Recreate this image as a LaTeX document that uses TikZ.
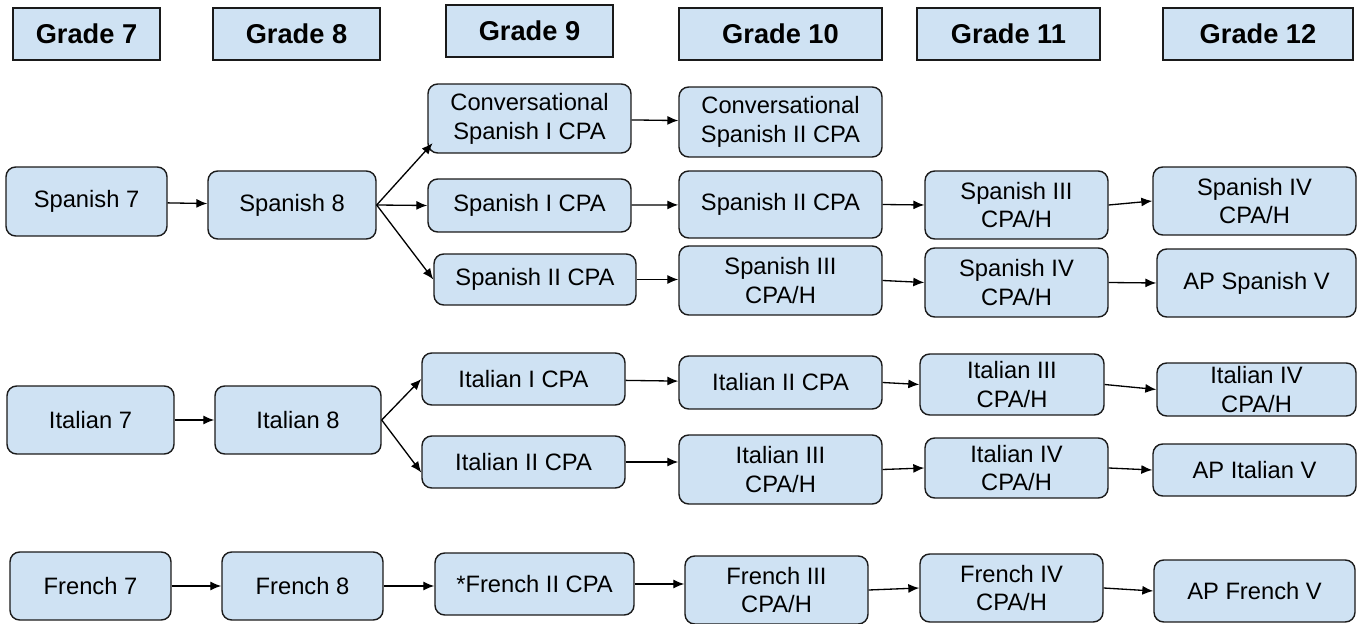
\documentclass[tikz,border=0pt]{standalone}
\usepackage{fontspec}
\setmainfont{Liberation Sans}
\usetikzlibrary{arrows.meta}
\definecolor{lpFill}{HTML}{CFE2F3}
\definecolor{lpLine}{HTML}{1A1A1A}
\tikzset{
  lpgrade/.style={rectangle,draw=lpLine,line width=0.8pt,fill=lpFill,font=\fontsize{15.5}{18}\selectfont\bfseries,align=center,inner sep=0pt,minimum height=1.04cm},
  lpcourse/.style={rectangle,rounded corners=5.5pt,draw=lpLine,line width=0.8pt,fill=lpFill,font=\fontsize{13.5}{16.4}\selectfont,align=center,inner sep=0pt},
  lplink/.style={-{Latex[length=2.2mm,width=1.8mm]},draw=black,line width=0.75pt}
}

\begin{document}
\begin{tikzpicture}[x=0.02cm,y=-0.02cm]
\useasboundingbox (0,0) rectangle (1358,624);

% ---- GRADE HEADERS ----
\node[lpgrade, minimum width=2.94cm] (g7) at (86.5,34) {Grade 7};
\node[lpgrade, minimum width=3.34cm] (g8) at (296.5,34) {Grade 8};
\node[lpgrade, minimum width=3.34cm] (g9) at (529.5,31) {Grade 9};
\node[lpgrade, minimum width=4.06cm] (g10) at (780.5,34) {Grade 10};
\node[lpgrade, minimum width=3.66cm] (g11) at (1008.5,34) {Grade 11};
\node[lpgrade, minimum width=3.80cm] (g12) at (1258,34) {Grade 12};

% ---- SPANISH ----
\node[lpcourse, minimum width=3.22cm, minimum height=1.38cm] (sp7) at (86.5,201.5) {Spanish 7};
\node[lpcourse, minimum width=3.36cm, minimum height=1.36cm] (sp8) at (292,205) {Spanish 8};
\node[lpcourse, minimum width=4.06cm, minimum height=1.38cm] (sp9a) at (529.5,118.5) {Conversational\\ Spanish I CPA};
\node[lpcourse, minimum width=4.06cm, minimum height=1.06cm] (sp9b) at (529.5,205.5) {Spanish I CPA};
\node[lpcourse, minimum width=4.04cm, minimum height=1.02cm] (sp9c) at (535,279.5) {Spanish II CPA};
\node[lpcourse, minimum width=4.06cm, minimum height=1.40cm] (sp10a) at (780.5,122) {Conversational\\ Spanish II CPA};
\node[lpcourse, minimum width=4.06cm, minimum height=1.34cm] (sp10b) at (780.5,204.5) {Spanish II CPA};
\node[lpcourse, minimum width=4.06cm, minimum height=1.38cm] (sp10c) at (780.5,280.5) {Spanish III\\ CPA/H};
\node[lpcourse, minimum width=3.66cm, minimum height=1.36cm] (sp11a) at (1016.5,205) {Spanish III\\ CPA/H};
\node[lpcourse, minimum width=3.66cm, minimum height=1.38cm] (sp11b) at (1016.5,282.5) {Spanish IV\\ CPA/H};
\node[lpcourse, minimum width=4.06cm, minimum height=1.36cm] (sp12a) at (1254.5,201) {Spanish IV\\ CPA/H};
\node[lpcourse, minimum width=3.98cm, minimum height=1.36cm] (sp12b) at (1256.5,283) {AP Spanish V};

\draw[lplink] (sp7) -- (sp8);
\draw[lplink] (sp8.east) -- ([xshift=3pt,yshift=6pt]sp9a.south west);
\draw[lplink] (sp8.east) -- (sp9b.west);
\draw[lplink] (sp8.east) -- (sp9c.west);
\draw[lplink] (sp9a) -- (sp10a);
\draw[lplink] (sp9b) -- (sp10b);
\draw[lplink] (sp9c.east) -- (sp9c.east -| sp10c.west);
\draw[lplink] (sp10b.east) -- (sp11a.west);
\draw[lplink] (sp10c.east) -- (sp11b.west);
\draw[lplink] (sp11a.east) -- (sp12a.west);
\draw[lplink] (sp11b.east) -- (sp12b.west);

% ---- ITALIAN ----
\node[lpcourse, minimum width=3.34cm, minimum height=1.36cm] (it7) at (90.5,420) {Italian 7};
\node[lpcourse, minimum width=3.32cm, minimum height=1.36cm] (it8) at (298,420) {Italian 8};
\node[lpcourse, minimum width=4.06cm, minimum height=1.04cm] (it9a) at (523.5,379) {Italian I CPA};
\node[lpcourse, minimum width=4.06cm, minimum height=1.04cm] (it9b) at (523.5,462) {Italian II CPA};
\node[lpcourse, minimum width=4.06cm, minimum height=1.06cm] (it10a) at (780.5,382.5) {Italian II CPA};
\node[lpcourse, minimum width=4.06cm, minimum height=1.38cm] (it10b) at (780.5,469.5) {Italian III\\ CPA/H};
\node[lpcourse, minimum width=3.68cm, minimum height=1.22cm] (it11a) at (1012,384.5) {Italian III\\ CPA/H};
\node[lpcourse, minimum width=3.66cm, minimum height=1.20cm] (it11b) at (1016.5,468) {Italian IV\\ CPA/H};
\node[lpcourse, minimum width=3.98cm, minimum height=1.06cm] (it12a) at (1256.5,389.5) {Italian IV\\ CPA/H};
\node[lpcourse, minimum width=4.06cm, minimum height=1.04cm] (it12b) at (1254.5,470) {AP Italian V};

\draw[lplink] (it7) -- (it8);
\draw[lplink] (it8.east) -- (it9a.west);
\draw[lplink] (it8.east) -- ([yshift=-6pt]it9b.west);
\draw[lplink] (it9a) -- (it10a);
\draw[lplink] (it9b.east) -- (it9b.east -| it10b.west);
\draw[lplink] (it10a.east) -- (it11a.west);
\draw[lplink] (it10b.east) -- (it11b.west);
\draw[lplink] (it11a.east) -- (it12a.west);
\draw[lplink] (it11b.east) -- (it12b.west);

% ---- FRENCH ----
\node[lpcourse, minimum width=3.22cm, minimum height=1.36cm] (fr7) at (90.5,586) {French 7};
\node[lpcourse, minimum width=3.22cm, minimum height=1.36cm] (fr8) at (302.5,586) {French 8};
\node[lpcourse, minimum width=3.98cm, minimum height=1.24cm] (fr9) at (534.5,584) {*French II CPA};
\node[lpcourse, minimum width=3.66cm, minimum height=1.36cm] (fr10) at (776.5,590) {French III\\ CPA/H};
\node[lpcourse, minimum width=3.66cm, minimum height=1.36cm] (fr11) at (1011.5,588) {French IV\\ CPA/H};
\node[lpcourse, minimum width=4.02cm, minimum height=1.24cm] (fr12) at (1254.5,591) {AP French V};

\draw[lplink] (fr7) -- (fr8);
\draw[lplink] (fr8.east) -- (fr8.east -| fr9.west);
\draw[lplink] (fr9.east) -- (fr9.east -| fr10.west);
\draw[lplink] (fr10.east) -- (fr11.west);
\draw[lplink] (fr11.east) -- (fr12.west);

\end{tikzpicture}
\end{document}
